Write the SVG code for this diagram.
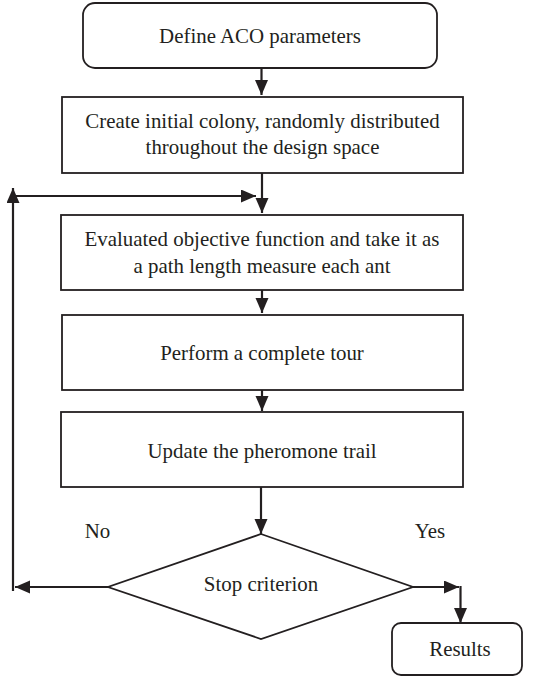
<svg xmlns="http://www.w3.org/2000/svg" width="537" height="676" viewBox="0 0 537 676">
<style>
.box{fill:#fff;stroke:#231f20;stroke-width:1.8}
.con{fill:none;stroke:#231f20;stroke-width:2.2}
text{font-family:"Liberation Serif","Times New Roman",serif;font-size:20.9px;fill:#231f20;text-anchor:middle}
</style>
<defs>
<marker id="ah" markerUnits="userSpaceOnUse" markerWidth="16" markerHeight="14" refX="15" refY="6.5" orient="auto" viewBox="0 0 16 14">
<path d="M0,0 L15,6.5 L0,13 z" fill="#231f20"/>
</marker>
</defs>
<rect width="537" height="676" fill="#fff"/>
<g id="connectors">
<path class="con" d="M261.5,68 V95" marker-end="url(#ah)"/>
<path class="con" d="M262,173 V213" marker-end="url(#ah)"/>
<path class="con" d="M262,290 V313" marker-end="url(#ah)"/>
<path class="con" d="M262,390 V411" marker-end="url(#ah)"/>
<path class="con" d="M261,487 V534" marker-end="url(#ah)"/>
<path class="con" d="M108,587 H15" marker-end="url(#ah)"/>
<path class="con" d="M13,591 V188" marker-end="url(#ah)"/>
<path class="con" d="M12,196 H256" marker-end="url(#ah)"/>
<path class="con" d="M413,587 H459" marker-end="url(#ah)"/>
<path class="con" d="M460.5,586 V623" marker-end="url(#ah)"/>
</g>
<g id="n1">
<rect class="box" x="83" y="3" width="354" height="65" rx="12"/>
<text x="260" y="43">Define ACO parameters</text>
</g>
<g id="n2">
<rect class="box" x="62" y="97" width="401" height="76"/>
<text x="262.5" y="128">Create initial colony, randomly distributed</text>
<text x="262.5" y="154">throughout the design space</text>
</g>
<g id="n3">
<rect class="box" x="61" y="215" width="402" height="75"/>
<text x="262" y="246">Evaluated objective function and take it as</text>
<text x="262" y="273">a path length measure each ant</text>
</g>
<g id="n4">
<rect class="box" x="62" y="315" width="401" height="75"/>
<text x="262" y="360">Perform a complete tour</text>
</g>
<g id="n5">
<rect class="box" x="61" y="412" width="402" height="75"/>
<text x="262" y="458">Update the pheromone trail</text>
</g>
<g id="n6">
<polygon class="box" points="261,534 413,587 261,639 108,587"/>
<text x="261" y="591">Stop criterion</text>
</g>
<g id="n7">
<rect class="box" x="392" y="623" width="130" height="52" rx="9"/>
<text x="460" y="656">Results</text>
</g>
<g id="labels">
<text x="97.5" y="538">No</text>
<text x="430" y="538">Yes</text>
</g>
</svg>
